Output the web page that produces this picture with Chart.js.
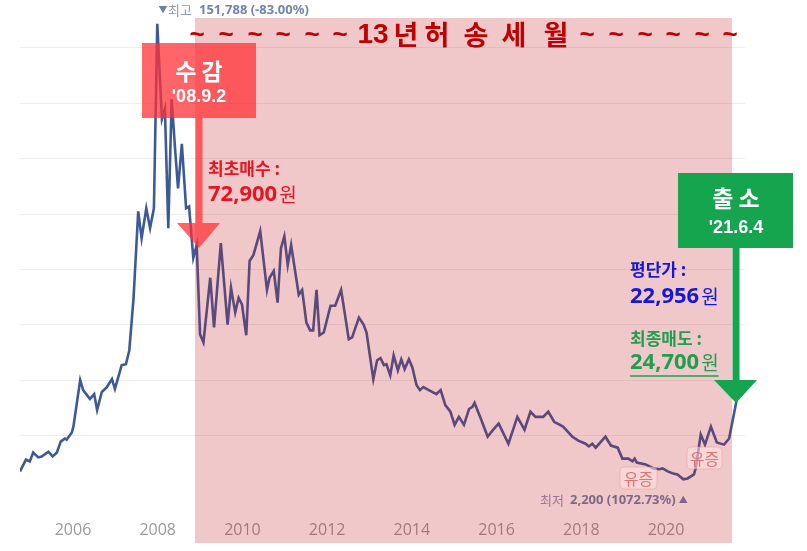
<!DOCTYPE html>
<html lang="ko">
<head>
<meta charset="utf-8">
<title>13년 허송세월</title>
<script src="https://cdn.jsdelivr.net/npm/chart.js@4.4.1/dist/chart.umd.min.js"></script>
<style>
  html, body { margin: 0; padding: 0; background: #fff; }
  canvas { display: block; }
</style>
</head>
<body>
<canvas id="chart" width="807" height="551"></canvas>
<script>
// 주가 흐름 (연도 소수 표기 / 원) - 그림에서 눈으로 읽은 값
const years = [
  2004.75, 2004.89, 2004.98, 2005.06, 2005.18, 2005.26, 2005.42, 2005.52, 2005.62, 2005.71,
  2005.81, 2005.85, 2005.97, 2006.01, 2006.17, 2006.24, 2006.40, 2006.50, 2006.57, 2006.68,
  2006.80, 2006.92, 2006.99, 2007.15, 2007.25, 2007.33, 2007.43, 2007.54, 2007.62, 2007.73,
  2007.82, 2007.91, 2007.99, 2008.10, 2008.17, 2008.25, 2008.33, 2008.41, 2008.48, 2008.57,
  2008.67, 2008.74, 2008.84, 2008.92, 2009.00, 2009.08, 2009.24, 2009.33, 2009.49, 2009.65,
  2009.73, 2009.83, 2009.91, 2009.99, 2010.09, 2010.17, 2010.26, 2010.42, 2010.58, 2010.64,
  2010.74, 2010.83, 2010.91, 2010.99, 2011.07, 2011.15, 2011.33, 2011.41, 2011.51, 2011.60,
  2011.67, 2011.75, 2011.82, 2011.92, 2012.08, 2012.19, 2012.33, 2012.51, 2012.59, 2012.75,
  2012.86, 2012.93, 2013.09, 2013.18, 2013.26, 2013.34, 2013.40, 2013.49, 2013.57, 2013.67,
  2013.75, 2013.83, 2013.93, 2014.01, 2014.11, 2014.19, 2014.27, 2014.40, 2014.58, 2014.68,
  2014.79, 2014.91, 2015.01, 2015.11, 2015.23, 2015.35, 2015.43, 2015.48, 2015.62, 2015.79,
  2015.92, 2016.05, 2016.28, 2016.49, 2016.66, 2016.80, 2016.92, 2017.10, 2017.22, 2017.36,
  2017.57, 2017.79, 2017.93, 2018.10, 2018.18, 2018.26, 2018.34, 2018.57, 2018.70, 2018.86,
  2018.97, 2019.11, 2019.21, 2019.26, 2019.31, 2019.52, 2019.71, 2019.84, 2019.92, 2020.04,
  2020.15, 2020.27, 2020.41, 2020.51, 2020.66, 2020.70, 2020.82, 2020.92, 2021.06, 2021.20,
  2021.37, 2021.49, 2021.67
];
const prices = [
  4800, 8700, 8100, 11000, 9400, 9700, 11300, 9700, 11000, 14600,
  15600, 15200, 17500, 19500, 34800, 31500, 28600, 30200, 25000, 30900,
  32500, 35100, 31900, 39700, 40000, 44600, 61800, 90200, 81400, 91200,
  84700, 91200, 151788, 120500, 123800, 84700, 127000, 110700, 97700, 112400,
  91200, 91800, 74900, 79100, 49800, 47200, 68400, 52100, 79800, 53000,
  65100, 57000, 61800, 59600, 49500, 73900, 75900, 83700, 64400, 68400,
  70600, 60200, 78100, 82000, 72600, 79100, 62800, 64400, 53700, 51100,
  51100, 64400, 49500, 50400, 59200, 59200, 64400, 48200, 48800, 55300,
  53000, 50400, 35100, 41300, 42000, 39700, 40000, 36400, 42900, 38000,
  41600, 38400, 41600, 39000, 33200, 31500, 32500, 31500, 30200, 31500,
  26600, 24400, 20100, 22700, 20100, 25300, 26000, 27300, 22400, 16200,
  18500, 20500, 13900, 22700, 18500, 24400, 22700, 22700, 24400, 21100,
  19500, 16200, 14900, 13900, 13000, 13900, 12600, 16200, 13300, 12600,
  9000, 9000, 8100, 9000, 7700, 7100, 5800, 5500, 5800, 4800,
  4200, 3800, 2200, 2500, 3800, 5800, 16900, 13600, 19500, 14300,
  13600, 15600, 28300
];
const yearTicks = [2006, 2008, 2010, 2012, 2014, 2016, 2018, 2020];
const gridValues = [16500, 34800, 53000, 71000, 89200, 107400, 125700, 144000];

const KR = '"Noto Sans CJK KR", "Noto Sans", sans-serif';

function txt(ctx, s, x, y, font, color, align = 'left') {
  ctx.font = font;
  ctx.fillStyle = color;
  ctx.textAlign = align;
  ctx.textBaseline = 'middle';
  ctx.fillText(s, x, y);
  return ctx.measureText(s).width;
}

// 주석, 박스, 화살표
const notes = {
  id: 'notes',
  afterDatasetsDraw(chart) {
    const ctx = chart.ctx;
    ctx.save();

    // 최고 / 최저 표시
    txt(ctx, '▼', 163, 10, '9px ' + KR, '#6d7ea8', 'center');
    txt(ctx, '최고', 168, 10, '13px ' + KR, '#8d99b8');
    txt(ctx, '151,788 (-83.00%)', 199, 10, 'bold 13px "Noto Sans"', '#7384ad');
    txt(ctx, '최저', 540, 500, '13px ' + KR, '#8d99b8');
    const w = txt(ctx, '2,200 (1072.73%)', 570, 500, 'bold 13px "Noto Sans"', '#6f80aa');
    txt(ctx, '▲', 573 + w, 500, '9px ' + KR, '#6d7ea8');

    // 13년 구간
    ctx.fillStyle = 'rgba(190,18,27,0.23)';
    ctx.fillRect(195, 18, 537, 525);

    // 유증
    [[620, 467, 37, 22], [687, 447, 35, 22]].forEach(([x, y, bw, bh]) => {
      ctx.beginPath();
      ctx.roundRect(x, y, bw, bh, 4);
      ctx.fillStyle = 'rgba(255,228,228,0.55)';
      ctx.fill();
      ctx.strokeStyle = 'rgba(225,140,140,0.4)';
      ctx.lineWidth = 1;
      ctx.stroke();
      txt(ctx, '유증', x + bw / 2, y + bh / 2 + 1, '16px ' + KR, '#e07474', 'center');
    });

    // 수감 박스 + 화살표
    ctx.fillStyle = 'rgba(255,50,55,0.75)';
    ctx.fillRect(142, 43, 114, 75);
    ctx.beginPath();
    ctx.moveTo(195.5, 118);
    ctx.lineTo(202.5, 118);
    ctx.lineTo(202.5, 223);
    ctx.lineTo(220, 223);
    ctx.lineTo(199, 248);
    ctx.lineTo(177, 223);
    ctx.lineTo(195.5, 223);
    ctx.closePath();
    ctx.fill();
    txt(ctx, '수 감', 199, 71, 'bold 23px ' + KR, '#fff', 'center');
    txt(ctx, "'08.9.2", 199, 97, 'bold 18px "Liberation Sans"', '#fff', 'center');

    // 출소 박스 + 화살표
    ctx.fillStyle = '#16a54f';
    ctx.fillRect(678, 173, 115, 75);
    ctx.beginPath();
    ctx.moveTo(732.5, 248);
    ctx.lineTo(739.5, 248);
    ctx.lineTo(739.5, 380);
    ctx.lineTo(757, 380);
    ctx.lineTo(736, 403);
    ctx.lineTo(714, 380);
    ctx.lineTo(732.5, 380);
    ctx.closePath();
    ctx.fill();
    txt(ctx, '출 소', 736, 198, 'bold 23px ' + KR, '#fff', 'center');
    txt(ctx, "'21.6.4", 736, 228, 'bold 18px "Liberation Sans"', '#fff', 'center');

    // 가격 메모
    const red = '#e8141e', blue = '#1616d6', green = '#1f9e4e';
    txt(ctx, '최초매수 :', 208, 169, 'bold 17px ' + KR, red);
    let n = txt(ctx, '72,900', 208, 195, 'bold 22px "Open Sans"', red);
    txt(ctx, '원', 210 + n, 195, '19px ' + KR, red);

    txt(ctx, '평단가 :', 630, 270, 'bold 17px ' + KR, blue);
    n = txt(ctx, '22,956', 630, 297, 'bold 22px "Open Sans"', blue);
    txt(ctx, '원', 632 + n, 297, '19px ' + KR, blue);

    txt(ctx, '최종매도 :', 630, 339, 'bold 17px ' + KR, green);
    n = txt(ctx, '24,700', 630, 363, 'bold 22px "Open Sans"', green);
    const m = txt(ctx, '원', 632 + n, 363, '19px ' + KR, green);
    ctx.strokeStyle = green;
    ctx.lineWidth = 1.5;
    ctx.beginPath();
    ctx.moveTo(630, 376);
    ctx.lineTo(632 + n + m, 376);
    ctx.stroke();

    // 제목
    const dark = '#c00000';
    [197, 226, 255, 283, 312, 340, 587, 616, 645, 673, 702, 730].forEach(x =>
      txt(ctx, '~', x, 36, 'bold 26px "Liberation Sans"', dark, 'center'));
    txt(ctx, '13', 373, 35, 'bold 28px "Liberation Sans"', dark, 'center');
    ['년', '허', '송', '세', '월'].forEach((c, i) =>
      txt(ctx, c, [406, 437, 476, 514, 556][i], 35, 'bold 27px ' + KR, dark, 'center'));

    ctx.restore();
  }
};

new Chart(document.getElementById('chart'), {
  type: 'line',
  data: {
    datasets: [{
      data: years.map((x, i) => ({ x, y: prices[i] })),
      borderColor: '#3d5a98',
      borderWidth: 2.6,
      pointRadius: 0,
      tension: 0
    }]
  },
  options: {
    responsive: false,
    animation: false,
    devicePixelRatio: 1,
    layout: { padding: { left: 20, right: 62, top: 0, bottom: 7 } },
    plugins: { legend: { display: false }, tooltip: { enabled: false } },
    scales: {
      x: {
        type: 'linear',
        min: 2004.749,
        max: 2021.865,
        grid: { display: false, drawTicks: false },
        border: { display: false },
        ticks: {
          padding: 4,
          color: '#9a9a9a',
          font: { size: 16, family: '"Open Sans", sans-serif' },
          callback: v => String(v)
        },
        afterBuildTicks: s => { s.ticks = yearTicks.map(v => ({ value: v })); }
      },
      y: {
        min: -10100,
        max: 159600,
        grid: { color: '#eeeeee', drawTicks: false },
        border: { display: false },
        ticks: { display: false },
        afterBuildTicks: s => { s.ticks = gridValues.map(v => ({ value: v })); }
      }
    }
  },
  plugins: [notes]
});
</script>
</body>
</html>
